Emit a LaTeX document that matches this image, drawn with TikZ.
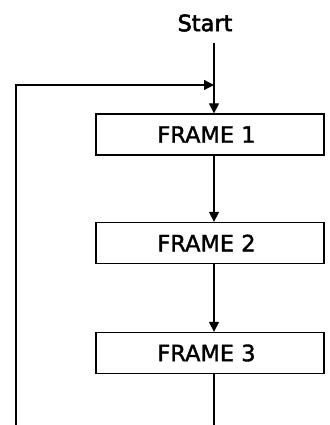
\documentclass[tikz,border=0pt]{standalone}
\usepackage{fontspec}
\setmainfont{DejaVu Sans}
\newfontfamily\lblfont[FakeBold=1.6]{DejaVu Sans}
\newfontfamily\startfont[FakeBold=2.4]{DejaVu Sans}
\usetikzlibrary{arrows.meta}
\begin{document}
\begin{tikzpicture}[x=1pt,y=1pt,
  line width=1.3pt,
  framebox/.style={draw, rectangle, minimum width=228pt, minimum height=41pt,
    inner sep=0pt},
  lbl/.style={font=\lblfont\fontsize{22.5}{27}\selectfont, inner sep=0pt},
  startlbl/.style={font=\startfont\fontsize{22.5}{27}\selectfont, inner sep=0pt},
  flow/.style={-{Triangle[width=10pt,length=10pt]}}]
  \useasboundingbox (0,0) rectangle (329,-425);
  % start label and the column the connectors run along
  \node[startlbl] (start) at (205,-23) {Start};
  \coordinate (top) at (214,-43);
  \coordinate (merge) at (214,-85);
  % the three frames and their captions
  \node[framebox] (f1) at (210,-134.5) {};
  \node[framebox] (f2) at (210,-243) {};
  \node[framebox] (f3) at (210,-353) {};
  \node[lbl] (t1) at ([xshift=-3.5pt]f1.center) {FRAME 1};
  \node[lbl] (t2) at ([xshift=-3.5pt]f2.center) {FRAME 2};
  \node[lbl] (t3) at ([xshift=-3.5pt]f3.center) {FRAME 3};
  % loop-back path on the left
  \coordinate (loopbot) at (16,-425);
  \coordinate (loopcorner) at (16,-85);
  \coordinate (out) at (214,-425);
  % connectors
  \draw[flow] (top) -- (f1.north -| top);
  \draw[flow] (loopbot) -- (loopcorner) -- (merge);
  \draw[flow] (f1.south -| top) -- (f2.north -| top);
  \draw[flow] (f2.south -| top) -- (f3.north -| top);
  \draw (f3.south -| top) -- (out);
\end{tikzpicture}
\end{document}
